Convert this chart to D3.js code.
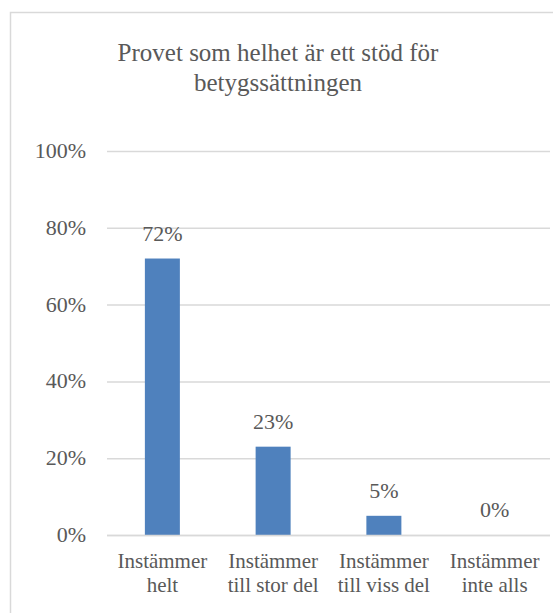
<!DOCTYPE html>
<html>
<head>
<meta charset="utf-8">
<script src="https://cdn.jsdelivr.net/npm/d3@7"></script>
</head>
<body style="margin:0">
<script>
// data
var categories = [["Instämmer", "helt"], ["Instämmer", "till stor del"], ["Instämmer", "till viss del"], ["Instämmer", "inte alls"]];
var values = [0.72, 0.23, 0.05, 0.00];
var y_ticks = [0, 0.2, 0.4, 0.6, 0.8, 1.0];
var title_lines = ["Provet som helhet är ett stöd för", "betygssättningen"];

var width = 553, height = 613;
var margin = {top: 151, right: 3, bottom: 78, left: 107};
var str_text_color = "#595959";
var str_font = "'Liberation Serif', monospace";

var svg = d3.select("body").append("svg")
  .attr("width", width)
  .attr("height", height);

// outer chart border, runs off the right and bottom
svg.append("rect")
  .attr("x", 10.5).attr("y", 12.5)
  .attr("width", 560).attr("height", 620)
  .style("fill", "none")
  .style("stroke", "#d9d9d9")
  .style("stroke-width", 1.5);

var plot_w = width - margin.left - margin.right;
var plot_h = height - margin.top - margin.bottom;

var g = svg.append("g")
  .attr("transform", "translate(" + margin.left + "," + margin.top + ")");

var x = d3.scaleBand()
  .domain(d3.range(categories.length))
  .range([0, plot_w])
  .padding(0);

var y = d3.scaleLinear()
  .domain([0, 1])
  .range([plot_h, 0]);

// gridlines
var y_axis = g.append("g")
  .call(d3.axisLeft(y).tickValues(y_ticks).tickFormat("").tickSize(-plot_w));
y_axis.select(".domain").remove();
y_axis.selectAll(".tick text").remove();
y_axis.selectAll(".tick line")
  .style("stroke", "#d9d9d9")
  .style("stroke-width", 1.5);

// y labels
g.append("g").selectAll("text")
  .data(y_ticks)
  .enter().append("text")
  .attr("x", -21)
  .attr("y", function(d) { return y(d) + 7; })
  .attr("text-anchor", "end")
  .attr("font-family", str_font)
  .attr("font-size", 22)
  .attr("fill", str_text_color)
  .text(function(d) { return d3.format(".0%")(d); });

// bars
var bar_w = x.bandwidth() * 0.316;
g.append("g").selectAll("rect")
  .data(values)
  .enter().append("rect")
  .attr("x", function(d, i) { return x(i) + (x.bandwidth() - bar_w) / 2; })
  .attr("y", function(d) { return y(d); })
  .attr("width", bar_w)
  .attr("height", function(d) { return plot_h - y(d); })
  .style("fill", "#4f81bd");

// data labels
g.append("g").selectAll("text")
  .data(values)
  .enter().append("text")
  .attr("x", function(d, i) { return x(i) + x.bandwidth() / 2; })
  .attr("y", function(d) { return y(d) - 18; })
  .attr("text-anchor", "middle")
  .attr("font-family", str_font)
  .attr("font-size", 22)
  .attr("fill", str_text_color)
  .text(function(d) { return d3.format(".0%")(d); });

// x axis line
g.append("line")
  .attr("x1", 0).attr("x2", plot_w)
  .attr("y1", plot_h + 0.5).attr("y2", plot_h + 0.5)
  .style("stroke", "#d9d9d9")
  .style("stroke-width", 1.5);

// category labels, one text per line
var cat_lines = [];
categories.forEach(function(c, i) {
  c.forEach(function(s, j) { cat_lines.push({s: s, i: i, j: j}); });
});
g.append("g").selectAll("text")
  .data(cat_lines)
  .enter().append("text")
  .attr("x", function(d) { return x(d.i) + x.bandwidth() / 2; })
  .attr("y", function(d) { return plot_h + 33 + d.j * 24; })
  .attr("text-anchor", "middle")
  .attr("font-family", str_font)
  .attr("font-size", 21)
  .attr("fill", str_text_color)
  .text(function(d) { return d.s; });

// title
svg.append("g").selectAll("text")
  .data(title_lines)
  .enter().append("text")
  .attr("x", 278)
  .attr("y", function(d, i) { return 61 + i * 30; })
  .attr("text-anchor", "middle")
  .attr("font-family", str_font)
  .attr("font-size", 25)
  .attr("fill", str_text_color)
  .text(function(d) { return d; });
</script>
</body>
</html>
